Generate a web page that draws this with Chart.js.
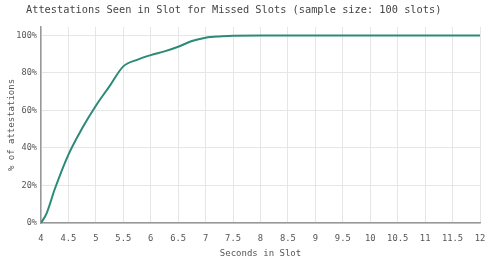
<!DOCTYPE html>
<html lang="en">
  <head>
    <meta charset="UTF-8" />
    <title>Attestations Seen in Slot</title>
    <style>
      body { margin: 0; background: #fff; }
      #box { width: 500px; height: 264px; }
    </style>
  </head>
  <body>
    <div id="box">
      <canvas id="myChart" width="500" height="264"></canvas>
    </div>
  </body>
</html>
<script src="https://cdn.jsdelivr.net/npm/chart.js"></script>
<script>
  // seconds in slot vs % of attestations seen
  var segundos = [4, 4.1, 4.25, 4.5, 4.75, 5, 5.25, 5.5, 5.75, 6, 6.25, 6.5, 6.75, 7, 7.25, 7.5, 8, 8.5, 9, 9.5, 10, 10.5, 11, 11.5, 12];
  var porcentagem = [0, 5, 18, 36.5, 50.5, 62.5, 73, 83.5, 87, 89.5, 91.5, 94, 97, 98.8, 99.5, 99.8, 100, 100, 100, 100, 100, 100, 100, 100, 100];
  var ticks_y = [0, 20, 40, 60, 80, 100];

  var titulo = "Attestations Seen in Slot for Missed Slots (sample size: 100 slots)";
  var fonte = "'DejaVu Sans Mono', 'Liberation Mono', monospace";

  const tituloPlugin = {
    id: "tituloPlugin",
    afterDraw(chart) {
      const ctx = chart.ctx;
      ctx.save();
      ctx.font = "10.3px " + fonte;
      ctx.fillStyle = "#444";
      ctx.textBaseline = "middle";
      ctx.fillText(titulo, 26, 10);
      ctx.restore();
    },
  };

  const pontos = [];
  for (var c = 0; c < segundos.length; c++) {
    pontos.push({ x: segundos[c], y: porcentagem[c] });
  }

  const data = {
    datasets: [
      {
        label: "% of attestations",
        data: pontos,
        borderColor: "#2b8a78",
        borderWidth: 2,
        pointRadius: 0,
        cubicInterpolationMode: "monotone",
        fill: false,
      },
    ],
  };

  const config = {
    type: "line",
    data: data,
    options: {
      responsive: false,
      animation: false,
      layout: { padding: { top: 27, right: 20, left: 0, bottom: 0 } },
      plugins: {
        legend: { display: false },
        tooltip: { enabled: false },
      },
      scales: {
        x: {
          type: "linear",
          min: 4,
          max: 12,
          ticks: {
            stepSize: 0.5,
            color: "#555",
            font: { family: fonte, size: 8.8 },
            padding: 10,
            maxRotation: 0,
            callback: function (v) { return String(v); },
          },
          grid: { color: "#e6e6e6", drawTicks: false },
          border: { color: "#999", width: 1.5 },
          title: {
            display: true,
            text: "Seconds in Slot",
            color: "#555",
            font: { family: fonte, size: 9 },
            padding: { top: 0, bottom: 5 },
          },
          afterFit(scale) {
            scale.height = 41;
          },
        },
        y: {
          min: 0,
          max: 104.5,
          afterBuildTicks(scale) {
            scale.ticks = ticks_y.map(function (v) { return { value: v }; });
          },
          ticks: {
            color: "#555",
            font: { family: fonte, size: 8.6 },
            padding: 4,
            callback: function (v) { return v + "%"; },
          },
          grid: { color: "#e6e6e6", drawTicks: false },
          border: { color: "#999", width: 1.5 },
          title: {
            display: true,
            text: "% of attestations",
            color: "#555",
            font: { family: fonte, size: 9 },
            padding: { top: 6, bottom: 0 },
          },
          afterFit(scale) {
            scale.width = 41;
          },
        },
      },
    },
    plugins: [tituloPlugin],
  };

  const myChart = new Chart(document.getElementById("myChart"), config);
</script>
